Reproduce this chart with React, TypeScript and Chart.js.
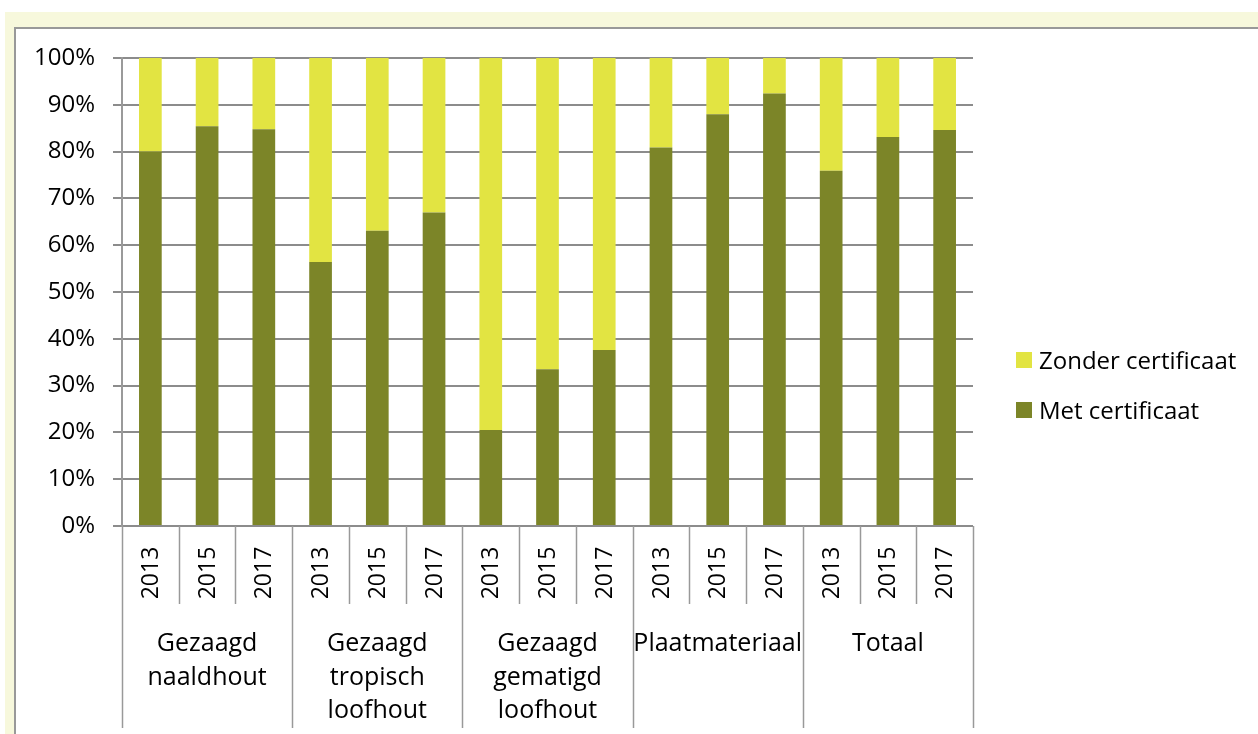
import React, { useEffect, useRef } from "react";
import { Chart, registerables } from "chart.js";

Chart.register(...registerables);

const groups: string[][] = [
  ["Gezaagd", "naaldhout"],
  ["Gezaagd", "tropisch", "loofhout"],
  ["Gezaagd", "gematigd", "loofhout"],
  ["Plaatmateriaal"],
  ["Totaal"],
];
const years: string[] = ["2013", "2015", "2017"];

const metCertificaat: number[] = [80.0, 85.4, 84.8, 56.4, 63.1, 67.0, 20.5, 33.5, 37.6, 80.9, 88.0, 92.4, 75.9, 83.1, 84.6];
const zonderCertificaat: number[] = [20.0, 14.6, 15.2, 43.6, 36.9, 33.0, 79.5, 66.5, 62.4, 19.1, 12.0, 7.6, 24.1, 16.9, 15.4];

const seriesNames = ["Met certificaat", "Zonder certificaat"];
const seriesColors = ["#7c8528", "#e2e442"];

const FONT = "'Open Sans'";
const CW = 1242;
const CH = 705;

const labels: string[] = [];
groups.forEach(() => years.forEach((y) => labels.push(y)));

const axisTablePlugin = {
  id: "axisTable",
  afterDraw(chart: any) {
    const ctx = chart.ctx;
    const xs = chart.scales.x;
    const area = chart.chartArea;
    const n = labels.length;
    const step = n > 1 ? xs.getPixelForValue(1) - xs.getPixelForValue(0) : area.right - area.left;
    ctx.save();
    ctx.strokeStyle = "#999999";
    ctx.lineWidth = 1.5;
    for (let i = 0; i <= n; i++) {
      const x = Math.round(xs.getPixelForValue(0) - step / 2 + i * step) + 0.5;
      const yEnd = i % years.length === 0 ? area.bottom + 202 : area.bottom + 78;
      ctx.beginPath();
      ctx.moveTo(x, area.bottom);
      ctx.lineTo(x, yEnd);
      ctx.stroke();
    }
    ctx.fillStyle = "#000";
    ctx.font = `23px ${FONT}`;
    ctx.textAlign = "center";
    ctx.textBaseline = "middle";
    for (let i = 0; i < n; i++) {
      const x = xs.getPixelForValue(i);
      ctx.save();
      ctx.translate(x + 1, area.bottom + 47);
      ctx.rotate(-Math.PI / 2);
      ctx.fillText(labels[i], 0, 0);
      ctx.restore();
    }
    ctx.font = `25px ${FONT}`;
    groups.forEach((lines, g) => {
      const first = xs.getPixelForValue(g * years.length);
      const last = xs.getPixelForValue(g * years.length + years.length - 1);
      const cx = (first + last) / 2;
      lines.forEach((t, k) => {
        ctx.fillText(t, cx, area.bottom + 118 + k * 33.5);
      });
    });
    ctx.restore();
  },
};

export default function App() {
  const ref = useRef<HTMLCanvasElement | null>(null);
  useEffect(() => {
    if (!ref.current) return;
    const chart = new Chart(ref.current, {
      type: "bar",
      data: {
        labels,
        datasets: [
          { label: seriesNames[0], data: metCertificaat, backgroundColor: seriesColors[0], borderWidth: 0 },
          { label: seriesNames[1], data: zonderCertificaat, backgroundColor: seriesColors[1], borderWidth: 0 },
        ],
      },
      options: {
        responsive: false,
        animation: false,
        devicePixelRatio: 1,
        layout: { padding: { top: 29, right: 285, bottom: 0, left: 0 } },
        datasets: { bar: { categoryPercentage: 1, barPercentage: 0.4 } },
        plugins: { legend: { display: false }, tooltip: { enabled: false } },
        scales: {
          x: {
            stacked: true,
            grid: { display: false, drawTicks: false },
            border: { display: false },
            ticks: { display: false },
            afterFit: (s: any) => { s.height = CH - 497; s.paddingLeft = 0; s.paddingRight = 0; },
          },
          y: {
            stacked: true,
            min: 0,
            max: 100,
            ticks: {
              stepSize: 10,
              padding: 18,
              color: "#000",
              font: { family: FONT, size: 24 },
              callback: (v: any) => `${v}%`,
            },
            grid: { color: "#8c8c8c", lineWidth: 2, tickLength: 9 },
            border: { display: true, color: "#9a9a9a", width: 2 },
            afterFit: (s: any) => { s.width = 106; s.paddingTop = 0; s.paddingBottom = 0; },
          },
        },
      },
      plugins: [axisTablePlugin],
    });
    return () => chart.destroy();
  }, []);

  const legendItems = [1, 0];
  return (
    <div style={{ position: "absolute", left: 5, top: 12, width: 1253, height: 722, background: "#f7f8dc", overflow: "hidden" }}>
      <div style={{ position: "absolute", left: 9, top: 15, width: 1242, height: 705, background: "#fff", borderTop: "2px solid #999", borderLeft: "2px solid #999" }}>
        <canvas ref={ref} width={CW} height={CH} style={{ display: "block", width: CW, height: CH }} />
        {legendItems.map((idx, k) => (
          <div key={idx} style={{ position: "absolute", left: 1000, top: 317 + k * 50, display: "flex", alignItems: "center", fontFamily: FONT, fontSize: 24, color: "#000", whiteSpace: "nowrap", lineHeight: "28px" }}>
            <span style={{ display: "inline-block", width: 16, height: 16, background: seriesColors[idx], marginRight: 7 }} />
            <span>{seriesNames[idx]}</span>
          </div>
        ))}
      </div>
    </div>
  );
}
